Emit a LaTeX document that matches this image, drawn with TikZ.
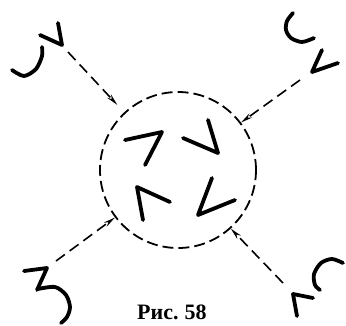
\documentclass[tikz,border=0pt]{standalone}
\usepackage{fontspec}
\setmainfont{Liberation Serif}
\usetikzlibrary{arrows.meta}
\begin{document}
\begin{tikzpicture}[x=1pt,y=-1pt,
  sym/.style={line width=3.8pt, line cap=round, line join=round},
  flow/.style={line width=1.6pt, dash pattern=on 11pt off 6pt, -{Stealth[length=12pt,width=5pt]}},
  ring/.style={line width=1.8pt, dash pattern=on 11pt off 5pt}]
\useasboundingbox (0,0) rectangle (346,325);
% dashed circle
\node[ring, circle, draw, minimum size=156pt, inner sep=0pt] (c) at (178,170) {};
% arrow starts
\coordinate (nw) at (68,52);
\coordinate (ne) at (300,80);
\coordinate (sw) at (56,261);
\coordinate (se) at (283,283);
\draw[flow, shorten >=10pt] (nw) -- (c.133);
\draw[flow] (ne) -- (c.37);
\draw[flow] (sw) -- (c.217);
\draw[flow] (se) -- (c.-48);
% outer symbols
\draw[sym] plot[smooth] coordinates {(12,70) (24,76) (36,69) (42,56) (42,47)};
\draw[sym] (40,35) -- (62,45) -- (58,23);
\draw[sym] plot[smooth] coordinates {(293,13) (287,21) (286,30) (291,38) (302,42) (314,38)};
\draw[sym] (322,50) -- (312,72) -- (338,63);
\draw[sym] plot[smooth] coordinates {(38,289) (55,287) (66,295) (70,307) (67,317) (61,323)};
\draw[sym] (24,271) -- (47,268) -- (37,290);
\draw[sym] plot[smooth] coordinates {(343,263) (332,259) (321,263) (314,274) (315,285) (320,290)};
\draw[sym] (313,298) -- (293,294) -- (297,316);
% inner symbols
\draw[sym] (125,140) -- (162,132) -- (145,165);
\draw[sym] (183,138) -- (218,153) -- (208,120);
\draw[sym] (143,220) -- (137,187) -- (170,202);
\draw[sym] (212,178) -- (198,215) -- (235,200);
% caption
\node[anchor=base west, inner sep=0pt, font=\bfseries\fontsize{22}{22}\selectfont] (cap) at (137,319) {Рис.\hspace{6pt}58};
\end{tikzpicture}
\end{document}
